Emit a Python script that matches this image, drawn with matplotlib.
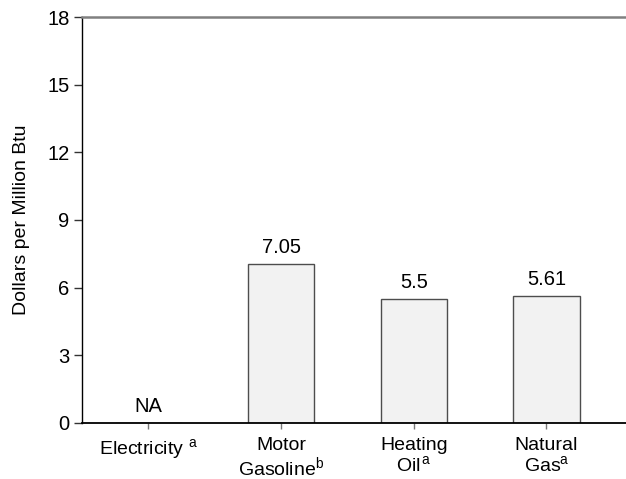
import matplotlib.pyplot as plt
import numpy as np

plt.rcParams['font.family'] = ['Liberation Sans', 'DejaVu Sans']
plt.rcParams['mathtext.fontset'] = 'custom'
plt.rcParams['mathtext.rm'] = 'Liberation Sans'
plt.rcParams['mathtext.it'] = 'Liberation Sans'

# Fuel prices, dollars per million Btu (electricity not available)
fuels = ['Electricity $^{\\mathrm{a}}$', 'Motor\nGasoline$^{\\mathrm{b}}$',
         'Heating\nOil$^{\\,\\mathrm{a}}$', 'Natural\nGas$^{\\mathrm{a}}$']
prices = [0.0, 7.05, 5.5, 5.61]
price_labels = ['NA', '7.05', '5.5', '5.61']
yticks = [0, 3, 6, 9, 12, 15, 18]


def plot_prices():
    fig = plt.figure(figsize=(6.26, 4.79), dpi=100)
    ax = fig.add_axes([0.131, 0.117, 0.869, 0.8475])

    x = np.arange(len(fuels))
    bars = ax.bar(x, prices, width=0.5, color='#f2f2f2', edgecolor='#4d4d4d', linewidth=1.0)

    for bar, lab in zip(bars, price_labels):
        ax.annotate(lab, (bar.get_x() + bar.get_width() / 2, bar.get_height()),
                    xytext=(0, 5), textcoords='offset points',
                    ha='center', va='bottom', fontsize=14.5)

    ax.set_xlim(-0.5, 3.6)
    ax.set_ylim(0, 18)
    ax.set_yticks(yticks)
    ax.set_xticks(x)
    ax.set_xticklabels(fuels, fontsize=14, linespacing=1.05)
    ax.tick_params(axis='y', labelsize=14.5, length=6, width=1, color='#333333', pad=3)
    ax.tick_params(axis='x', length=4, width=1, color='#777777', pad=6)
    ax.set_ylabel('Dollars per Million Btu', fontsize=14, labelpad=12)

    ax.spines['right'].set_visible(False)
    ax.spines['top'].set_color('#808080')
    ax.spines['top'].set_linewidth(1.8)
    ax.spines['left'].set_linewidth(1.0)
    ax.spines['bottom'].set_linewidth(1.3)

    fig.savefig('out.png', dpi=100)


if __name__ == '__main__':
    plot_prices()
